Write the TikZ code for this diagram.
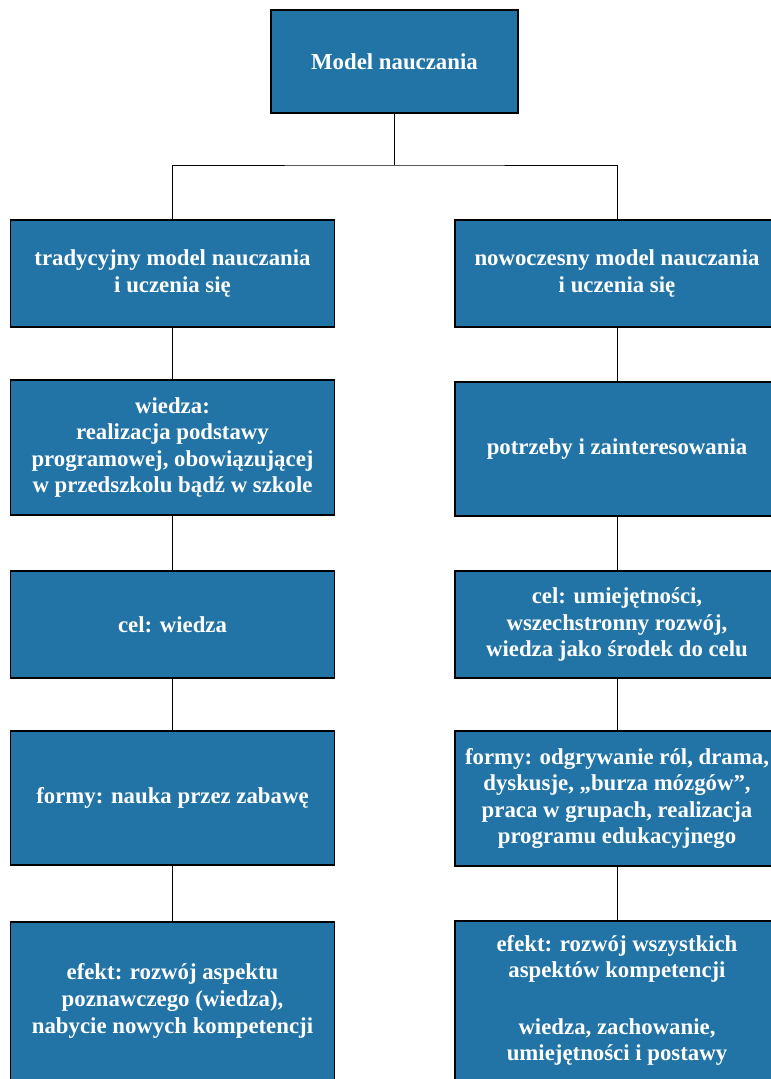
\documentclass[tikz,border=0pt]{standalone}
\usepackage{fontspec}
\setmainfont{Liberation Serif}
\usetikzlibrary{positioning}
\definecolor{boxblue}{RGB}{34,116,166}

\begin{document}
\begin{tikzpicture} [
        stagebox/.style={
            rectangle,
            draw=black,
            line width=1.2pt,
            fill=boxblue,
            text=white,
            align=center,
            inner sep=2pt,
            outer sep=0pt,
            minimum width=324pt,
            font=\fontsize{22.8}{26.6}\selectfont\bfseries
        },
        link/.style={
            draw=black,
            line width=0.8pt
        }
    ]

        \useasboundingbox (0,0) rectangle (771pt,-1079pt);

        \node[stagebox, minimum width=247pt, minimum height=103pt] (model) at (394.5pt,-61.5pt) {Model nauczania};
        \coordinate (split) at (394.5pt,-165pt);

        \node[stagebox, minimum height=107pt] (trad1) at (172.5pt,-273.5pt)      {tradycyjny model nauczania\\i uczenia się};
        \node[stagebox, minimum height=135pt] (trad2) [below=53pt of trad1]      {wiedza:\\realizacja podstawy\\programowej, obowiązującej\\w przedszkolu bądź w szkole};
        \node[stagebox, minimum height=107pt] (trad3) [below=56pt of trad2]      {cel: wiedza};
        \node[stagebox, minimum height=134pt] (trad4) [below=53pt of trad3]      {formy: nauka przez zabawę};
        \node[stagebox, minimum height=158pt] (trad5) [below=57pt of trad4]      {efekt: rozwój aspektu\\poznawczego (wiedza),\\nabycie nowych kompetencji};

        \node[stagebox, minimum height=107pt] (nowo1) at (617pt,-273.5pt)        {nowoczesny model nauczania\\i uczenia się};
        \node[stagebox, minimum height=134pt] (nowo2) [below=55pt of nowo1]      {potrzeby i zainteresowania};
        \node[stagebox, minimum height=107pt] (nowo3) [below=55pt of nowo2]      {cel: umiejętności,\\wszechstronny rozwój,\\wiedza jako środek do celu};
        \node[stagebox, minimum height=135pt] (nowo4) [below=53pt of nowo3]      {formy: odgrywanie ról, drama,\\dyskusje, „burza mózgów”,\\praca w grupach, realizacja\\programu edukacyjnego};
        \node[stagebox, minimum height=159pt] (nowo5) [below=55pt of nowo4]      {efekt: rozwój wszystkich\\aspektów kompetencji\\[29.6pt]wiedza, zachowanie,\\umiejętności i postawy};

        \draw[link] (model) -- (split);
        \draw[link] (trad1) |- (split) -| (nowo1);

        \draw[link] (trad1) -- (trad2);
        \draw[link] (trad2) -- (trad3);
        \draw[link] (trad3) -- (trad4);
        \draw[link] (trad4) -- (trad5);

        \draw[link] (nowo1) -- (nowo2);
        \draw[link] (nowo2) -- (nowo3);
        \draw[link] (nowo3) -- (nowo4);
        \draw[link] (nowo4) -- (nowo5);

    \end{tikzpicture}
\end{document}
